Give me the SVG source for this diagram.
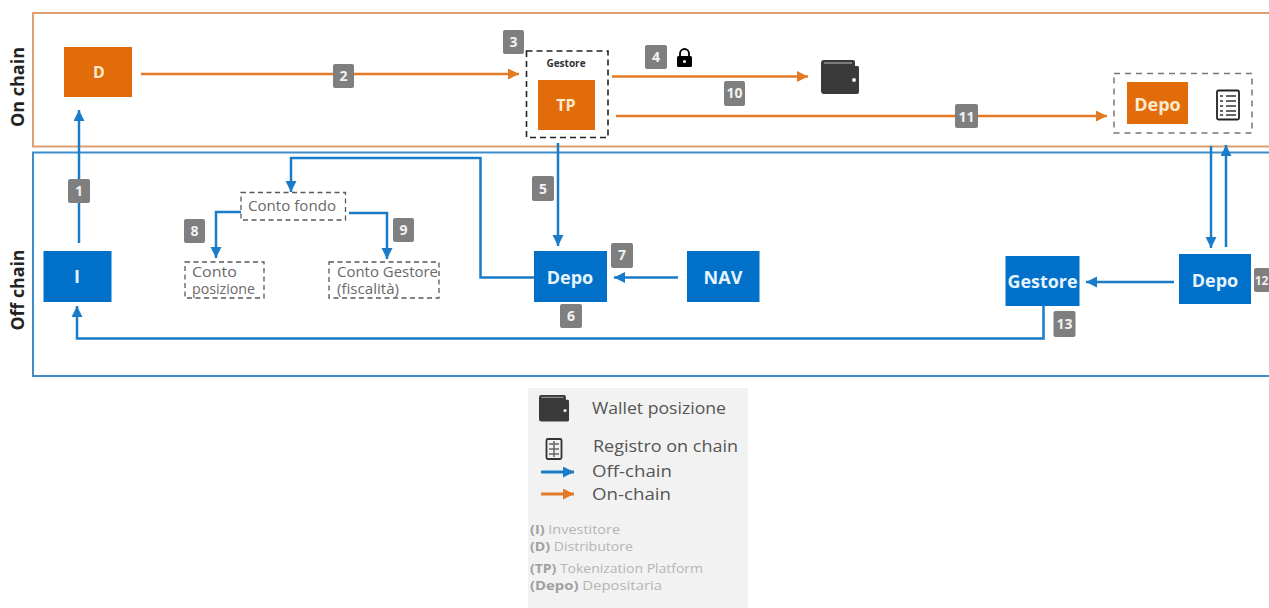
<svg xmlns="http://www.w3.org/2000/svg" width="1269" height="608" viewBox="0 0 1269 608">
<style>
text{font-family:"Open Sans","Liberation Sans",sans-serif}
.b{fill:#0070c8}.o{fill:#e36c0a}
.nt{fill:#e6f4ff;font-size:18px;font-weight:700;text-anchor:middle}
.ot{fill:#ffe9cf;font-weight:700;text-anchor:middle}
.bd{fill:#7f7f7f}
.bt{fill:#f2f2f2;font-size:14px;font-weight:700;text-anchor:middle}
.lb{fill:none;stroke:#1a7cc8;stroke-width:2.5}
.lo{fill:none;stroke:#e37a26;stroke-width:2.5}
.dash{fill:#fff;stroke:#595959;stroke-width:1.3;stroke-dasharray:5 3.5}
.ct{fill:#6a6a6a;font-size:14px}
.lg{fill:#555;font-size:17px}
.lk{fill:#b5b5b5;font-size:13px}
.lk tspan{font-weight:700;fill:#a0a0a0}
.lane{font-size:18px;font-weight:700;fill:#222;text-anchor:middle}
</style>
<defs>
<marker id="ab" markerUnits="userSpaceOnUse" markerWidth="13" markerHeight="13" refX="11" refY="5.500" orient="auto"><path d="M0 0L11 5.500L0 11Z" fill="#1a7cc8"/></marker>
<marker id="ao" markerUnits="userSpaceOnUse" markerWidth="13" markerHeight="13" refX="11" refY="5.500" orient="auto"><path d="M0 0L11 5.500L0 11Z" fill="#e37a26"/></marker>
<g id="wallet"><path d="M3 0H32Q34 0 34 2V6H37Q38 6 38 8V32Q38 34 36 34H3Q0 34 0 31V3Q0 0 3 0Z" fill="#3a3a3a"/><path d="M3 3H31" stroke="#bbb" stroke-width="1"/><circle cx="33" cy="20" r="2" fill="#eee"/></g>
</defs>
<rect width="1269" height="608" fill="#fff"/>
<g id="lanes">
<path d="M1269 13H33V146.500H1269" fill="none" stroke="#dc9f74" stroke-width="2"/>
<path d="M1269 152.500H33V376H1269" fill="none" stroke="#3f8cc8" stroke-width="2"/>
<text class="lane" transform="translate(24 87) rotate(-90)" textLength="80" lengthAdjust="spacingAndGlyphs">On chain</text>
<text class="lane" transform="translate(24 290) rotate(-90)" textLength="81" lengthAdjust="spacingAndGlyphs">Off chain</text>
</g>
<g id="connectors">
<path class="lb" d="M79 243V110" marker-end="url(#ab)"/>
<path class="lo" d="M141 74H519" marker-end="url(#ao)"/>
<path class="lo" d="M612 76.500H808" marker-end="url(#ao)"/>
<path class="lo" d="M616 116H1107" marker-end="url(#ao)"/>
<path class="lb" d="M558 143V246" marker-end="url(#ab)"/>
<path class="lb" d="M534 277.500H480.500V158H291V192" marker-end="url(#ab)"/>
<path class="lb" d="M241 212H216V258" marker-end="url(#ab)"/>
<path class="lb" d="M349 213H387V259" marker-end="url(#ab)"/>
<path class="lb" d="M678 277.500H614" marker-end="url(#ab)"/>
<path class="lb" d="M1211 146V248" marker-end="url(#ab)"/>
<path class="lb" d="M1226 247V145" marker-end="url(#ab)"/>
<path class="lb" d="M1174 282H1086" marker-end="url(#ab)"/>
<path class="lb" d="M1043.500 306V338.500H77V306" marker-end="url(#ab)"/>
</g>
<g id="node-d"><rect class="o" x="64" y="47" width="68" height="50"/><text class="ot" x="99" y="78" font-size="16">D</text></g>
<g id="node-i"><rect class="b" x="43.500" y="251" width="68" height="51"/><text class="nt" x="77" y="283" font-size="16">I</text></g>
<g id="node-gestore-tp"><rect x="526.500" y="51" width="81.500" height="86.500" fill="#fff" stroke="#222" stroke-width="1.6" stroke-dasharray="6 4"/><text x="566" y="67" font-size="10" font-weight="700" fill="#333" text-anchor="middle">Gestore</text><rect class="o" x="538" y="80" width="57" height="50"/><text class="ot" x="566" y="111" font-size="16">TP</text></g>
<g id="node-wallet"><use href="#wallet" x="821" y="60"/></g>
<g id="node-lock"><path d="M680 56V53.500a4.500 4.500 0 0 1 9 0V56" fill="none" stroke="#000" stroke-width="1.800"/><rect x="677" y="56" width="15" height="11" rx="1.500" fill="#000"/><circle cx="684.500" cy="61.500" r="1.500" fill="#fff"/></g>
<g id="node-depo-onchain"><rect x="1114" y="73.500" width="138" height="59.500" fill="#fff" stroke="#777" stroke-width="1.500" stroke-dasharray="6 5"/><rect class="o" x="1127" y="82" width="61" height="42"/><text class="ot" x="1157.500" y="111" font-size="18">Depo</text><rect x="1217" y="90.500" width="22" height="29" rx="1.500" fill="#fff" stroke="#222" stroke-width="1.800"/><path d="M1220 96h3M1226 96h10M1220 101h3M1226 101h10M1220 106h3M1226 106h10M1220 111h3M1226 111h10M1220 115h3M1226 115h10" stroke="#333" stroke-width="1.500"/></g>
<g id="node-conto-fondo"><rect class="dash" x="241" y="192.500" width="104.500" height="27.500"/><text class="ct" x="248" y="211" textLength="88" lengthAdjust="spacingAndGlyphs">Conto fondo</text></g>
<g id="node-conto-posizione"><rect class="dash" x="185" y="262" width="79" height="36"/><text class="ct" x="192" y="277" textLength="45" lengthAdjust="spacingAndGlyphs">Conto</text><text class="ct" x="192" y="294" textLength="63" lengthAdjust="spacingAndGlyphs">posizione</text></g>
<g id="node-conto-gestore"><rect class="dash" x="329" y="262" width="110" height="36"/><text class="ct" x="337" y="277" textLength="101" lengthAdjust="spacingAndGlyphs">Conto Gestore</text><text class="ct" x="337" y="294" textLength="62" lengthAdjust="spacingAndGlyphs">(fiscalità)</text></g>
<g id="node-depo"><rect class="b" x="534" y="251" width="73" height="51"/><text class="nt" x="570" y="284">Depo</text></g>
<g id="node-nav"><rect class="b" x="687" y="251" width="72.500" height="51"/><text class="nt" x="723" y="284">NAV</text></g>
<g id="node-gestore"><rect class="b" x="1005.500" y="256" width="74" height="50"/><text class="nt" x="1042.500" y="288" font-size="17" textLength="70" lengthAdjust="spacingAndGlyphs">Gestore</text></g>
<g id="node-depo-right"><rect class="b" x="1179" y="254" width="72" height="50"/><text class="nt" x="1215" y="287">Depo</text></g>
<g id="badges">
<rect class="bd" x="68" y="179" width="22" height="24" rx="2"/><text class="bt" x="79" y="196">1</text>
<rect class="bd" x="333" y="64" width="21" height="24" rx="2"/><text class="bt" x="343.500" y="81">2</text>
<rect class="bd" x="503" y="30" width="21" height="24" rx="2"/><text class="bt" x="513.500" y="47">3</text>
<rect class="bd" x="645" y="45" width="22" height="24" rx="2"/><text class="bt" x="656" y="62">4</text>
<rect class="bd" x="532" y="176" width="22" height="25" rx="2"/><text class="bt" x="543" y="194">5</text>
<rect class="bd" x="560" y="304" width="22" height="24" rx="2"/><text class="bt" x="571" y="321">6</text>
<rect class="bd" x="611" y="243" width="22" height="25" rx="2"/><text class="bt" x="622" y="260">7</text>
<rect class="bd" x="184" y="219" width="21" height="24" rx="2"/><text class="bt" x="194.500" y="236">8</text>
<rect class="bd" x="393" y="218" width="21" height="24" rx="2"/><text class="bt" x="403.500" y="235">9</text>
<rect class="bd" x="724" y="81" width="21" height="25" rx="2"/><text class="bt" x="734.500" y="98">10</text>
<rect class="bd" x="955" y="104" width="23" height="24" rx="2"/><text class="bt" x="966.500" y="122">11</text>
<rect class="bd" x="1254" y="268" width="22" height="24" rx="2"/><text class="bt" x="1261.500" y="285" style="font-size:12px">12</text>
<rect class="bd" x="1053.500" y="311" width="22" height="26" rx="2"/><text class="bt" x="1064.500" y="329">13</text>
</g>
<g id="legend">
<rect x="528" y="388" width="220" height="220" fill="#f2f2f2"/>
<use href="#wallet" transform="translate(539 395) scale(.79 .78)"/>
<text class="lg" x="592" y="414" textLength="134" lengthAdjust="spacingAndGlyphs">Wallet posizione</text>
<rect x="546.500" y="439" width="15" height="20" rx="1.500" fill="#f2f2f2" stroke="#333" stroke-width="1.800"/><path d="M549 444h10M549 449h10M549 454h10M554 441v16" stroke="#666" stroke-width="1.500"/>
<text class="lg" x="593" y="452" textLength="145" lengthAdjust="spacingAndGlyphs">Registro on chain</text>
<path d="M541 472H574" stroke="#1a7cc8" stroke-width="3" marker-end="url(#ab)"/>
<text class="lg" x="592" y="477" textLength="80" lengthAdjust="spacingAndGlyphs">Off-chain</text>
<path d="M541 494H574" stroke="#e37a26" stroke-width="3" marker-end="url(#ao)"/>
<text class="lg" x="592" y="500" textLength="79" lengthAdjust="spacingAndGlyphs">On-chain</text>
<text class="lk" x="530" y="534" textLength="90" lengthAdjust="spacingAndGlyphs"><tspan>(I)</tspan> Investitore</text>
<text class="lk" x="530" y="551" textLength="103" lengthAdjust="spacingAndGlyphs"><tspan>(D)</tspan> Distributore</text>
<text class="lk" x="530" y="573" textLength="173" lengthAdjust="spacingAndGlyphs"><tspan>(TP)</tspan> Tokenization Platform</text>
<text class="lk" x="530" y="590" textLength="132" lengthAdjust="spacingAndGlyphs"><tspan>(Depo)</tspan> Depositaria</text>
</g>
</svg>
